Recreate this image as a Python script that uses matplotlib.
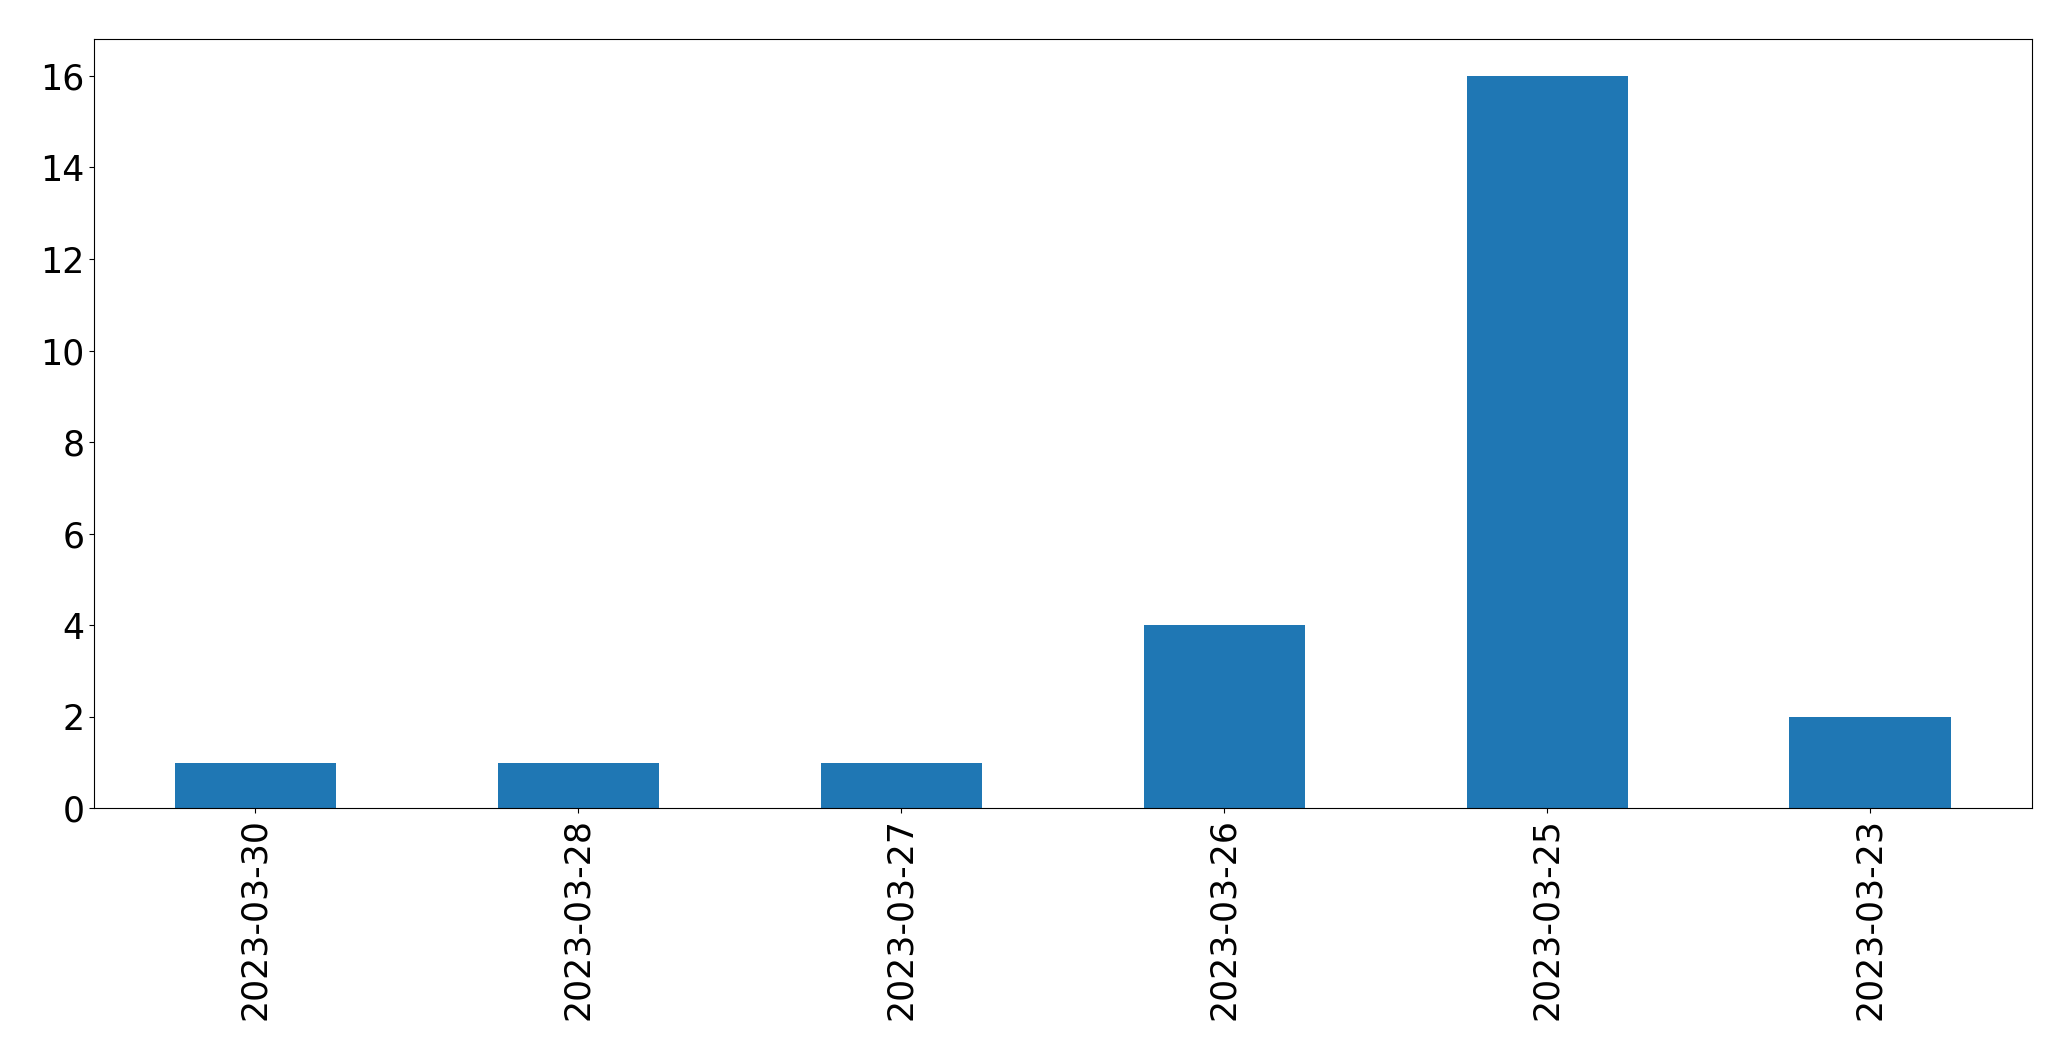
import matplotlib
matplotlib.use("Agg")
import matplotlib.pyplot as plt
import numpy as np

dates = ["2023-03-30", "2023-03-28", "2023-03-27", "2023-03-26", "2023-03-25", "2023-03-23"]
counts = [1, 1, 1, 4, 16, 2]

fig = plt.figure(figsize=(20.71, 10.61), dpi=100)
ax = fig.add_axes([0.0454, 0.238, 0.9356, 0.725])
x = np.arange(len(dates))
ax.bar(x, counts, width=0.5, color="#1f77b4")
ax.set_xlim(-0.5, len(dates) - 0.5)
ax.set_ylim(0, 16.8)
ax.set_xticks(x)
ax.set_xticklabels(dates, rotation=90)
ax.tick_params(axis="both", labelsize=25)
fig.savefig("out.png", dpi=100)
